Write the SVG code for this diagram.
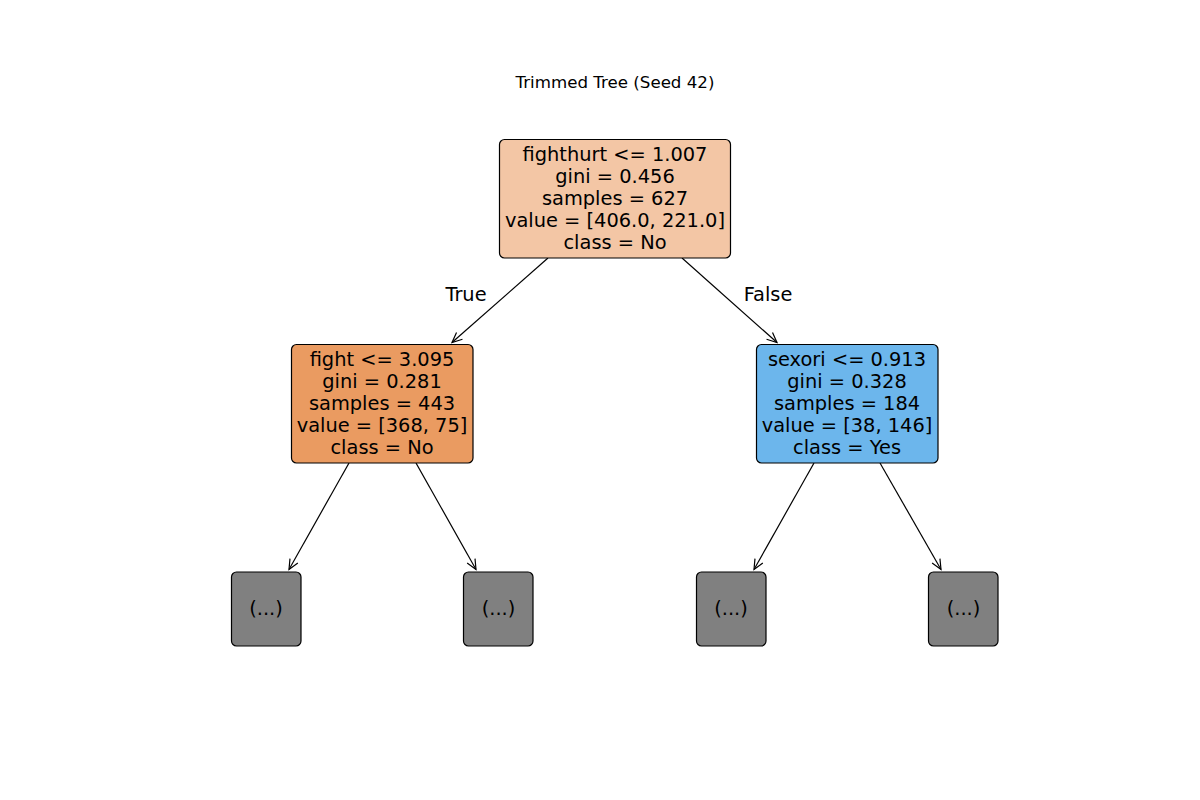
<svg xmlns="http://www.w3.org/2000/svg" width="1200" height="800" viewBox="0 0 1200 800">
<defs>
<style>
text{font-family:"DejaVu Sans",sans-serif;fill:#000}
.n{font-size:19.4px;text-anchor:middle}
.t{font-size:16.67px;text-anchor:middle}
.box{stroke:#000;stroke-width:1.2}
.e{stroke:#000;stroke-width:1.2;fill:none;marker-end:url(#ah)}
</style>
<marker id="ah" viewBox="-12 -6 14 12" markerWidth="14" markerHeight="12" refX="0" refY="0" orient="auto" markerUnits="userSpaceOnUse">
<path d="M-10,-4.5 L0,0 L-10,4.5" fill="none" stroke="#000" stroke-width="1.2"/>
</marker>
</defs>
<rect width="1200" height="800" fill="#fff"/>
<text class="t" x="615" y="88">Trimmed Tree (Seed 42)</text>
<g id="connectors">
<line class="e" x1="548" y1="258" x2="452" y2="342.5"/>
<line class="e" x1="682" y1="258" x2="777" y2="342.5"/>
<line class="e" x1="349" y1="463" x2="289" y2="569.5"/>
<line class="e" x1="416" y1="463" x2="476" y2="569.5"/>
<line class="e" x1="814" y1="463" x2="754" y2="569.5"/>
<line class="e" x1="880" y1="463" x2="941" y2="569.5"/>
<text class="n" x="466" y="301">True</text>
<text class="n" x="768" y="301">False</text>
</g>
<g id="root">
<rect class="box" x="499.5" y="139.5" width="231" height="118.5" rx="5" fill="#f3c6a5"/>
<text class="n" x="615" y="160.5">fighthurt &lt;= 1.007</text>
<text class="n" x="615" y="182.5">gini = 0.456</text>
<text class="n" x="615" y="204.5">samples = 627</text>
<text class="n" x="615" y="226.5">value = [406.0, 221.0]</text>
<text class="n" x="615" y="248.5">class = No</text>
</g>
<g id="left">
<rect class="box" x="291.5" y="344.5" width="181.5" height="118.5" rx="5" fill="#ea9b61"/>
<text class="n" x="382" y="365.5">fight &lt;= 3.095</text>
<text class="n" x="382" y="387.5">gini = 0.281</text>
<text class="n" x="382" y="409.5">samples = 443</text>
<text class="n" x="382" y="431.5">value = [368, 75]</text>
<text class="n" x="382" y="453.5">class = No</text>
</g>
<g id="right">
<rect class="box" x="756.5" y="344.5" width="181.5" height="118.5" rx="5" fill="#6cb6ec"/>
<text class="n" x="847" y="365.5">sexori &lt;= 0.913</text>
<text class="n" x="847" y="387.5">gini = 0.328</text>
<text class="n" x="847" y="409.5">samples = 184</text>
<text class="n" x="847" y="431.5">value = [38, 146]</text>
<text class="n" x="847" y="453.5">class = Yes</text>
</g>
<g id="leaf1">
<rect class="box" x="231.5" y="572" width="69.5" height="74" rx="5" fill="#808080"/>
<text class="n" x="266" y="615">(...)</text>
</g>
<g id="leaf2">
<rect class="box" x="463.5" y="572" width="69.5" height="74" rx="5" fill="#808080"/>
<text class="n" x="498.5" y="615">(...)</text>
</g>
<g id="leaf3">
<rect class="box" x="696.5" y="572" width="69.5" height="74" rx="5" fill="#808080"/>
<text class="n" x="731" y="615">(...)</text>
</g>
<g id="leaf4">
<rect class="box" x="928.5" y="572" width="69.5" height="74" rx="5" fill="#808080"/>
<text class="n" x="963.5" y="615">(...)</text>
</g>
</svg>
